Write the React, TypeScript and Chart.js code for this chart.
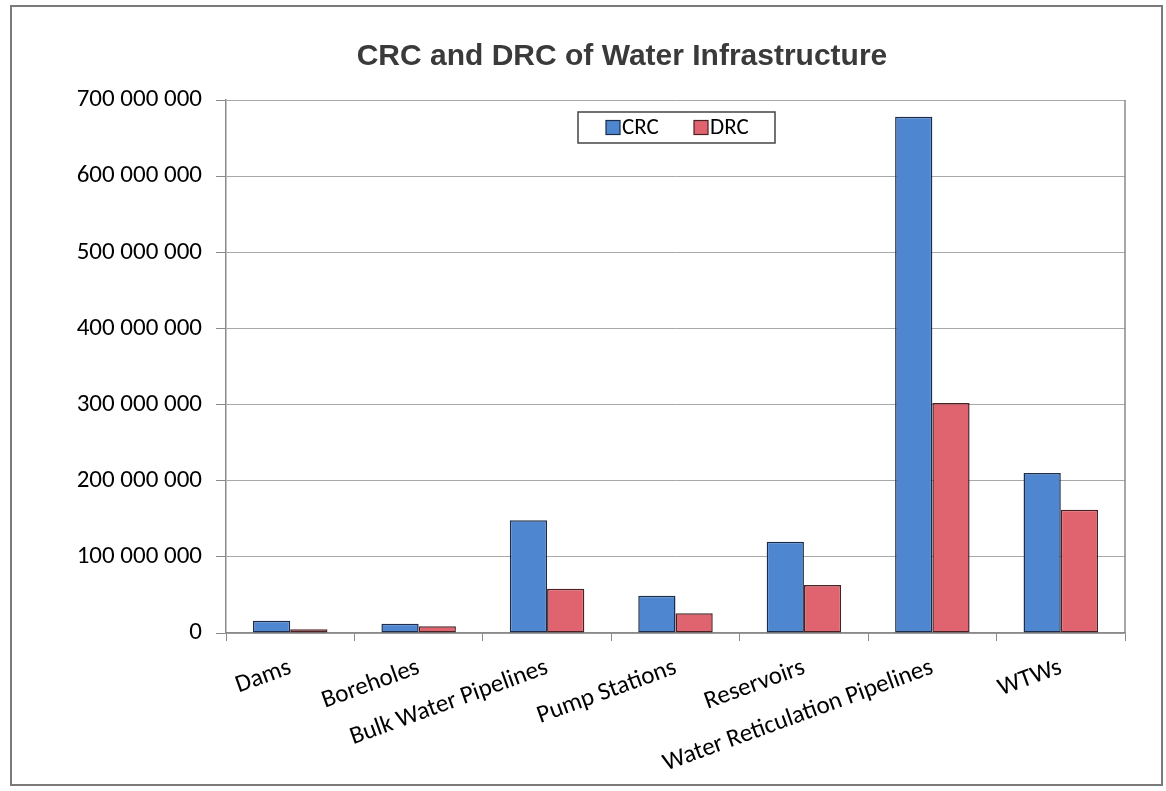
import React, { useEffect, useRef } from "react";
import { Chart, registerables } from "chart.js";

Chart.register(...registerables);

const chartTitle = "CRC and DRC of Water Infrastructure";
const categories = [
  "Dams",
  "Boreholes",
  "Bulk Water Pipelines",
  "Pump Stations",
  "Reservoirs",
  "Water Reticulation Pipelines",
  "WTWs",
];
const seriesNames = ["CRC", "DRC"];
const crcValues = [16000000, 12000000, 148000000, 49000000, 120000000, 678000000, 210000000];
const drcValues = [5000000, 9000000, 58000000, 26000000, 63000000, 302000000, 162000000];
const yMin = 0;
const yMax = 700000000;
const yStep = 100000000;

const BLUE = "#4F86D0";
const BLUE_BORDER = "#1D2C4A";
const RED = "#E0646F";
const RED_BORDER = "#4A2224";
const FONT = "Carlito, Calibri, Lato, 'Open Sans', sans-serif";

const fmt = (v: number) => String(Math.round(v)).replace(/\B(?=(\d{3})+(?!\d))/g, " ");

const decorPlugin = {
  id: "decor",
  beforeDraw(chart: any) {
    const ctx = chart.ctx;
    ctx.save();
    ctx.fillStyle = "#ffffff";
    ctx.fillRect(0, 0, chart.width, chart.height);
    ctx.strokeStyle = "#7a7a7a";
    ctx.lineWidth = 2;
    ctx.strokeRect(11, 6, 1151, 779);
    ctx.restore();
  },
  afterDraw(chart: any) {
    const ctx = chart.ctx;
    const a = chart.chartArea;
    ctx.save();
    // plot area right border
    ctx.strokeStyle = "#8a8a8a";
    ctx.lineWidth = 1.5;
    ctx.beginPath();
    ctx.moveTo(a.right, a.top);
    ctx.lineTo(a.right, a.bottom);
    ctx.stroke();

    // title
    ctx.fillStyle = "#3a3a3a";
    ctx.font = "bold 30px 'Liberation Sans', Arial, sans-serif";
    ctx.textAlign = "center";
    ctx.textBaseline = "middle";
    ctx.fillText(chartTitle, 622, 57);

    // legend
    const bx = 578, by = 112, bw = 197, bh = 31;
    ctx.fillStyle = "#ffffff";
    ctx.fillRect(bx, by, bw, bh);
    ctx.strokeStyle = "#444";
    ctx.lineWidth = 1.5;
    ctx.strokeRect(bx, by, bw, bh);
    ctx.font = "23px " + FONT;
    ctx.textAlign = "left";
    ctx.textBaseline = "middle";
    const items = chart.data.datasets.map((d: any) => ({ label: d.label, bg: d.backgroundColor, bd: d.borderColor }));
    const xs = [606, 694];
    items.forEach((it: any, i: number) => {
      const x = xs[i];
      const y = by + bh / 2;
      ctx.fillStyle = it.bg;
      ctx.fillRect(x, y - 7, 14, 14);
      ctx.strokeStyle = it.bd;
      ctx.lineWidth = 1.2;
      ctx.strokeRect(x, y - 7, 14, 14);
      ctx.fillStyle = "#000";
      ctx.fillText(it.label, x + 16, y + 1);
    });
    ctx.restore();
  },
};

export default function App() {
  const canvasRef = useRef<HTMLCanvasElement | null>(null);

  useEffect(() => {
    document.body.style.margin = "0";
    const canvas = canvasRef.current;
    if (!canvas) return;
    const chart = new Chart(canvas, {
      type: "bar",
      data: {
        labels: categories,
        datasets: [
          {
            label: seriesNames[0],
            data: crcValues,
            backgroundColor: BLUE,
            borderColor: BLUE_BORDER,
            borderWidth: 1.5,
            borderSkipped: false,
            categoryPercentage: 0.58,
            barPercentage: 1.0,
          },
          {
            label: seriesNames[1],
            data: drcValues,
            backgroundColor: RED,
            borderColor: RED_BORDER,
            borderWidth: 1.5,
            borderSkipped: false,
            categoryPercentage: 0.58,
            barPercentage: 1.0,
          },
        ],
      },
      options: {
        responsive: false,
        animation: false,
        layout: { padding: { top: 100, left: 0, right: 41, bottom: 0 } },
        plugins: {
          legend: { display: false },
          title: { display: false },
          tooltip: { enabled: false },
        },
        scales: {
          x: {
            offset: true,
            grid: {
              display: true,
              offset: true,
              drawOnChartArea: false,
              drawTicks: true,
              tickLength: 8,
              tickColor: "#8a8a8a",
            },
            border: { display: true, color: "#8a8a8a", width: 1.5 },
            ticks: {
              autoSkip: false,
              minRotation: 20,
              maxRotation: 20,
              padding: 12,
              color: "#000",
              font: { family: FONT, size: 25 },
            },
            afterFit: (scale: any) => {
              scale.height = 158;
            },
          },
          y: {
            min: yMin,
            max: yMax,
            ticks: {
              stepSize: yStep,
              color: "#000",
              padding: 14,
              font: { family: FONT, size: 25 },
              callback: (v: any) => fmt(Number(v)),
            },
            grid: {
              color: "#a8a8a8",
              lineWidth: 1,
              drawTicks: true,
              tickLength: 10,
              tickColor: "#8a8a8a",
            },
            border: { display: true, color: "#8a8a8a", width: 1.5 },
            afterFit: (scale: any) => {
              scale.width = 226;
            },
          },
        },
      },
      plugins: [decorPlugin],
    } as any);
    return () => chart.destroy();
  }, []);

  return (
    <div style={{ width: 1166, height: 791, position: "relative" }}>
      <canvas ref={canvasRef} width={1166} height={791} style={{ display: "block" }} />
    </div>
  );
}
